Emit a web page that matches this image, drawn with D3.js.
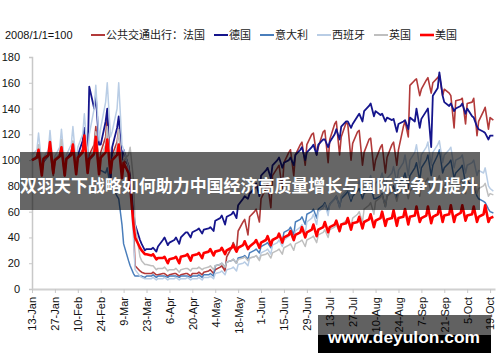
<!DOCTYPE html>
<html>
<head>
<meta charset="utf-8">
<title>公共交通出行</title>
<script src="https://cdn.jsdelivr.net/npm/d3@7"></script>
<style>
  body { margin: 0; background: #fff; }
  svg { display: block; }
</style>
</head>
<body>
<svg id="chart" width="500" height="362"></svg>
<script>
// days since 13-Jan-2020 (Mon, Thu, Fri, Sun of each week)
const sampleDays = [
  0,3,4,6, 7,10,11,13, 14,17,18,20, 21,24,25,27, 28,31,32,34,
  35,38,39,41, 42,45,46,48, 49,52,53,55, 56,59,60,62, 63,66,67,69,
  70,73,74,76, 77,80,81,83, 84,87,88,90, 91,94,95,97, 98,101,102,104,
  105,108,109,111, 112,115,116,118, 119,122,123,125, 126,129,130,132, 133,136,137,139,
  140,143,144,146, 147,150,151,153, 154,157,158,160, 161,164,165,167, 168,171,172,174,
  175,178,179,181, 182,185,186,188, 189,192,193,195, 196,199,200,202, 203,206,207,209,
  210,213,214,216, 217,220,221,223, 224,227,228,230, 231,234,235,237, 238,241,242,244,
  245,248,249,251, 252,255,256,258, 259,262,263,265, 266,269,270,272, 273,276,277,279,
  280,282
];

const tickDates = ["2020-01-13","2020-01-27","2020-02-10","2020-02-24","2020-03-09","2020-03-23",
  "2020-04-06","2020-04-20","2020-05-04","2020-05-18","2020-06-01","2020-06-15","2020-06-29",
  "2020-07-13","2020-07-27","2020-08-10","2020-08-24","2020-09-07","2020-09-21","2020-10-05","2020-10-19"];

const seriesNames = ["公共交通出行：法国","德国","意大利","西班牙","英国","美国"];

const france = [
  100,102,106,90, 99,103,108,88, 100,104,110,88, 101,104,112,90, 102,108,118,92,
  104,112,126,94, 106,118,133,96, 104,114,124,92, 100,96,88,50, 18,14,13,12,
  12,12,13,11, 11,12,12,10, 11,12,12,10, 11,12,12,10, 12,12,13,11,
  13,14,15,12, 15,17,18,14, 25,32,36,30, 45,52,54,42, 56,60,62,52,
  70,78,82,63, 88,94,96,78, 98,106,108,88, 104,112,114,96, 112,120,121,104,
  110,122,123,98, 116,128,130,104, 118,129,128,100, 113,122,123,96, 106,116,117,92,
  100,110,112,90, 102,112,114,96, 108,126,130,118, 158,162,163,150, 155,162,164,152,
  160,164,166,150, 155,152,150,125, 146,147,148,128, 144,145,148,119, 130,138,141,124,
  133,131
];
const germany = [
  100,103,106,94, 99,104,112,95, 100,104,110,94, 101,106,114,96, 104,115,125,100,
  157,140,150,112, 112,130,140,80, 110,125,134,100, 108,95,85,60, 50,38,35,30,
  31,31,32,29, 33,38,40,34, 36,38,40,35, 40,44,44,40, 44,46,47,43,
  46,47,48,45, 53,55,57,50, 56,58,60,55, 65,70,72,70, 74,78,82,72,
  88,92,94,86, 96,100,102,94, 98,100,102,96, 104,108,110,100, 106,110,112,104,
  112,116,116,110, 114,120,124,116, 126,130,130,125, 128,134,136,130, 138,142,144,134,
  138,135,136,130, 133,131,132,122, 128,130,131,124, 133,130,140,125, 132,138,140,110,
  150,156,168,150, 145,142,144,138, 140,142,144,136, 140,134,133,126, 124,122,121,116,
  119,119
];
const italy = [
  100,102,108,92, 99,104,112,94, 100,103,110,93, 101,104,112,94, 102,106,116,95,
  100,104,112,92, 92,90,94,78, 80,72,70,50, 35,22,18,12, 10,10,10,9,
  10,10,11,9, 10,10,10,9, 10,10,10,9, 10,10,10,9, 10,10,11,9,
  11,11,12,10, 18,19,20,17, 21,22,23,20, 24,25,26,23, 28,30,31,28,
  33,35,36,32, 38,40,42,37, 44,46,48,42, 52,54,56,50, 58,60,62,55,
  62,65,67,60, 66,70,72,64, 70,74,76,68, 72,76,78,70, 74,78,80,70,
  70,72,74,64, 72,76,80,70, 80,86,90,78, 88,94,98,84, 94,100,104,88,
  96,104,108,90, 94,98,100,86, 90,94,96,82, 84,80,80,72, 70,68,67,62,
  60,59
];
const spain = [
  104,108,121,96, 102,108,123,95, 103,110,124,96, 104,112,126,97, 110,120,136,102,
  120,140,158,115, 125,145,160,118, 122,140,160,112, 108,95,80,40, 15,10,9,8,
  8,8,9,7, 8,8,9,7, 8,8,9,7, 8,8,9,7, 8,8,9,7,
  9,9,10,8, 12,13,14,11, 15,16,17,14, 19,20,21,18, 24,25,26,23,
  28,30,31,27, 34,36,38,33, 38,41,43,37, 45,48,50,43, 52,55,58,50,
  60,63,66,57, 66,70,72,63, 72,76,80,70, 76,80,84,74, 80,84,88,76,
  82,86,90,78, 86,90,95,82, 92,98,104,88, 100,106,112,94, 104,110,114,96,
  106,112,115,98, 104,108,110,94, 100,102,104,90, 96,98,100,88, 92,90,94,80,
  78,76
];
const uk = [
  100,103,112,92, 100,104,114,93, 101,105,116,94, 100,104,115,92, 101,106,118,94,
  100,110,122,96, 102,112,126,98, 100,110,124,96, 100,104,110,85, 50,25,22,19,
  19,18,18,15, 16,16,17,14, 15,15,16,13, 15,16,16,14, 16,16,17,15,
  16,17,18,15, 18,19,20,17, 21,22,23,20, 23,24,25,22, 24,25,26,22,
  26,27,28,24, 28,30,31,27, 32,34,35,30, 35,37,38,33, 38,40,41,36,
  42,44,46,40, 46,48,50,44, 50,53,55,48, 55,58,60,52, 62,65,67,58,
  68,71,73,64, 72,75,77,68, 74,77,80,70, 76,80,82,72, 80,84,86,75,
  82,85,88,76, 80,84,86,75, 80,83,85,74, 80,82,84,74, 78,80,82,72,
  74,73
];
const us = [
  100,102,108,88, 101,104,114,90, 100,103,110,88, 101,104,112,89, 102,106,119,90,
  101,105,118,89, 102,106,116,90, 100,104,112,86, 98,90,80,50, 40,32,30,27,
  27,26,27,23, 24,24,25,20, 23,24,25,20, 25,26,27,22, 26,27,28,24,
  28,29,31,26, 29,30,32,27, 30,32,34,29, 32,34,37,31, 33,36,38,32,
  36,38,41,34, 38,40,43,36, 40,42,45,38, 42,44,48,40, 44,46,50,41,
  46,48,52,44, 48,50,53,45, 50,51,55,46, 51,52,56,47, 52,54,58,48,
  53,55,60,49, 54,55,61,49, 55,56,62,50, 56,57,64,52, 55,57,64,51,
  56,58,64,52, 57,58,65,52, 57,59,65,53, 57,58,64,52, 56,58,65,52,
  55,56
];

const seriesValues = [france, germany, italy, spain, uk, us];
const seriesColors = ["#b23a3a","#15158c","#4a7ebb","#b9cde5","#bfbfbf","#ff0000"];
const seriesWidths = [1.6,1.8,1.5,1.5,1.5,2.6];

const startDate = new Date(2020,0,13);
const dates = sampleDays.map(d => d3.timeDay.offset(startDate, d));

const svg = d3.select("#chart");
const x = d3.scaleTime()
  .domain([startDate, new Date(2020,9,22)])
  .range([32, 495]);
const y = d3.scaleLinear().domain([0,180]).range([289, 57]);

// y axis
const yAxis = svg.append("g")
  .attr("transform","translate(32,0)")
  .call(d3.axisLeft(y).tickValues(d3.range(0,181,20)).tickSize(3).tickPadding(9));
yAxis.select(".domain").attr("stroke","#c8c8c8").attr("stroke-width",1.5);
yAxis.selectAll(".tick line").attr("stroke","#c8c8c8");
yAxis.selectAll("text").attr("font-family","Liberation Sans, Arial").attr("font-size","11px").attr("fill","#111");

// x axis
const parse = d3.timeParse("%Y-%m-%d");
const xAxis = svg.append("g")
  .attr("transform","translate(0,289)")
  .call(d3.axisBottom(x).tickValues(tickDates.map(parse)).tickFormat(d3.timeFormat("%-d-%b")).tickSize(4).tickSizeOuter(0));
xAxis.select(".domain").attr("stroke","#d0d0d0").attr("stroke-width",2);
xAxis.selectAll(".tick line").attr("stroke","#c8c8c8");
xAxis.selectAll("text")
  .attr("font-family","Liberation Sans, Arial").attr("font-size","11px").attr("fill","#111")
  .attr("transform","rotate(-90)")
  .attr("x",-8).attr("y",0).attr("dy","0.35em")
  .style("text-anchor","end");

// lines
const line = d3.line()
  .x((d,i) => x(dates[i]))
  .y(d => y(d));
svg.append("g").selectAll("path")
  .data(seriesValues)
  .join("path")
  .attr("d", line)
  .attr("fill","none")
  .attr("stroke",(d,i) => seriesColors[i])
  .attr("stroke-width",(d,i) => seriesWidths[i])
  .attr("stroke-linejoin","round");

// header
svg.append("text").attr("x",5).attr("y",39)
  .attr("font-family","Liberation Sans, Arial").attr("font-size","11px").attr("fill","#111")
  .text("2008/1/1=100");

let lx = 91;
seriesNames.forEach((name,i) => {
  svg.append("line").attr("x1",lx).attr("x2",lx+14).attr("y1",35).attr("y2",35)
    .attr("stroke",seriesColors[i]).attr("stroke-width",i === 5 ? 2.6 : 2);
  const t = svg.append("text").attr("x",lx+15).attr("y",39)
    .attr("font-family","Noto Sans CJK SC").attr("font-size","11px").attr("fill","#222")
    .text(name);
  lx = lx + 15 + t.node().getComputedTextLength() + 9;
});

// overlay banner
svg.append("rect").attr("x",20).attr("y",152).attr("width",460).attr("height",58)
  .attr("fill","rgba(0,0,0,0.6)");
svg.append("text").attr("x",249).attr("y",192)
  .attr("text-anchor","middle")
  .attr("font-family","Noto Sans CJK SC").attr("font-weight","bold").attr("font-size","17.5px")
  .attr("fill","#fff")
  .attr("textLength",458).attr("lengthAdjust","spacingAndGlyphs")
  .text("双羽天下战略如何助力中国经济高质量增长与国际竞争力提升");

// watermark
svg.append("rect").attr("x",318).attr("y",315).attr("width",173).attr("height",38)
  .attr("fill","rgba(0,0,0,0.62)");
svg.append("rect").attr("x",318).attr("y",335).attr("width",173).attr("height",18)
  .attr("fill","#000");
svg.append("text").attr("x",404).attr("y",343)
  .attr("text-anchor","middle")
  .attr("font-family","Liberation Sans, Arial").attr("font-weight","bold").attr("font-size","17px")
  .attr("fill","#fff")
  .attr("textLength",152).attr("lengthAdjust","spacingAndGlyphs")
  .text("www.deyulon.com");
</script>
</body>
</html>
